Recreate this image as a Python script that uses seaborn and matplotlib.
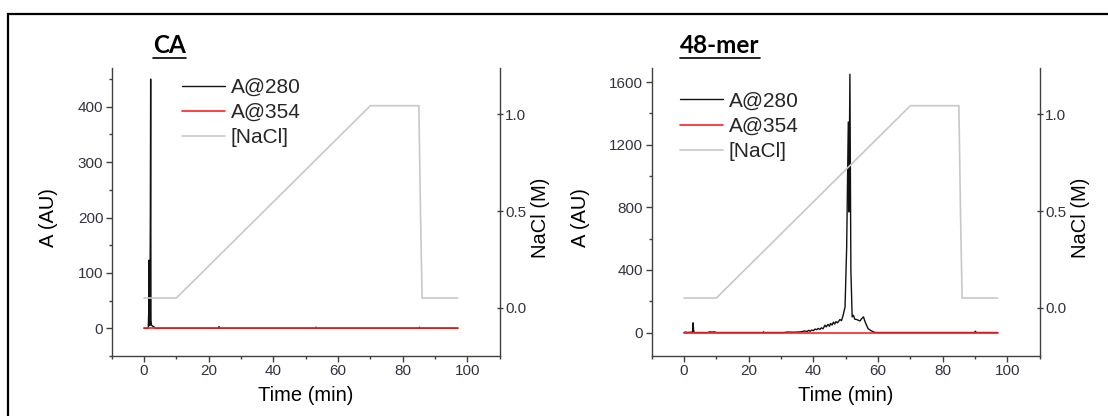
import matplotlib
matplotlib.use("Agg")
import matplotlib.pyplot as plt
from matplotlib.lines import Line2D
from matplotlib.patches import Rectangle
from matplotlib.ticker import MultipleLocator
import seaborn as sns
import pandas as pd

# ---------------- data ----------------
nacl_time = [0, 10, 70, 85, 85.5, 86, 97]
nacl_conc = [0.05, 0.05, 1.045, 1.045, 0.5, 0.05, 0.05]

ca_time_280 = [0, 1.3, 1.45, 1.55, 1.65, 1.8, 1.95, 2.05, 2.15, 2.3, 2.6, 3.0, 3.5,
               23.0, 23.2, 23.4, 53.0, 53.2, 53.4, 85.0, 85.2, 85.4, 97]
ca_abs_280 = [0, 0, 30, 123, 15, 5, 200, 450, 15, 6, 4, 3, 0,
              0, 3, 0, 0, 2, 0, 0, 2, 0, 0]
ca_time_354 = [0, 97]
ca_abs_354 = [0, 0]

mer_time_280 = [0, 0.5, 1.0, 2.0, 2.6, 2.8, 3.0, 3.3, 7.4, 7.8, 8.5, 9.5, 9.9,
                24.4, 24.6, 24.8, 30.8, 32, 34, 36, 37.4, 38, 38.6, 39, 39.5, 40,
                40.5, 41, 41.5, 42, 42.5, 43, 43.6, 44, 44.5, 45, 45.3, 45.8, 46.2,
                46.6, 47, 47.5, 48.2, 48.7, 49.2, 49.8, 50.3, 50.8, 51.0, 51.3,
                51.6, 52.0, 52.4, 52.8, 53.4, 54.4, 55.0, 55.5, 56.0, 56.9, 57.8,
                58.6, 59.2, 60, 89.8, 90.1, 90.4, 97]
mer_abs_280 = [0, 3, 0, 2, 0, 62, 5, 0, 0, 4, 3, 4, 0,
               0, 4, 0, 0, 3, 2, 4, 10, 6, 14, 8, 16, 12,
               22, 18, 26, 20, 30, 24, 47, 36, 52, 40, 58, 48, 66,
               54, 70, 62, 83, 76, 110, 164, 547, 1345, 770, 1650,
               400, 100, 110, 85, 83, 74, 90, 100, 68, 25, 12,
               4, 0, 0, 0, 8, 0, 0]
mer_time_354 = [0, 97]
mer_abs_354 = [0, 0]

panels = [
    dict(title="CA", t280=ca_time_280, a280=ca_abs_280, t354=ca_time_354,
         a354=ca_abs_354, ylim=(-50, 470), ymin=50,
         yticks=[0, 100, 200, 300, 400]),
    dict(title="48-mer", t280=mer_time_280, a280=mer_abs_280, t354=mer_time_354,
         a354=mer_abs_354, ylim=(-150, 1690), ymin=200,
         yticks=[0, 400, 800, 1200, 1600]),
]
legend_labels = ["A@280", "A@354", "[NaCl]"]

# ---------------- style ----------------
sns.set_theme(style="white")
plt.rcParams["font.family"] = ["Liberation Sans", "DejaVu Sans"]

W, H = 1108, 416
fig = plt.figure(figsize=(W / 100, H / 100), dpi=100)
fig.patch.set_facecolor("white")

# outer frame (open to the right/bottom like the cropped reference)
fig.add_artist(Rectangle((8 / W, -0.1), 1.2, (416 - 14) / H + 0.1,
                         transform=fig.transFigure, fill=False,
                         edgecolor="black", linewidth=1.6, clip_on=False))

ax_lefts = [111.7, 651.7]
ax_w, ax_top, ax_bot = 388, 68, 356
title_x = [153, 680]
leg_anchor = [(0.181, 0.966), (0.073, 0.918)]
ylab_x = [57.5, 589.5]
y2lab_x = [530.5, 1070.5]

spine_c = "#404040"
tick_c = "#333340"

titles = []
for i, p in enumerate(panels):
    ax = fig.add_axes([ax_lefts[i] / W, (H - ax_bot) / H, ax_w / W,
                       (ax_bot - ax_top) / H])
    ax2 = ax.twinx()
    df280 = pd.DataFrame({"t": p["t280"], "a": p["a280"]})
    df354 = pd.DataFrame({"t": p["t354"], "a": p["a354"]})
    dfn = pd.DataFrame({"t": nacl_time, "c": nacl_conc})
    sns.lineplot(data=df280, x="t", y="a", ax=ax, color="#111111",
                 linewidth=1.0, estimator=None, sort=False, zorder=2)
    sns.lineplot(data=df354, x="t", y="a", ax=ax, color="#ff2020",
                 linewidth=1.2, estimator=None, sort=False, zorder=3)
    sns.lineplot(data=dfn, x="t", y="c", ax=ax2, color="#c8c8c8",
                 linewidth=1.2, estimator=None, sort=False)

    ax.set_xlim(-10, 110)
    ax.set_ylim(*p["ylim"])
    ax2.set_ylim(-0.25, 1.24)
    ax.xaxis.set_major_locator(MultipleLocator(20))
    ax.xaxis.set_minor_locator(MultipleLocator(10))
    ax.set_yticks(p["yticks"])
    ax.yaxis.set_minor_locator(MultipleLocator(p["ymin"]))
    ax2.set_yticks([0.0, 0.5, 1.0])
    ax2.set_yticklabels(["0.0", "0.5", "1.0"])

    for a in (ax, ax2):
        a.set_facecolor("none")
        a.spines["top"].set_visible(False)
        for s in ("left", "right", "bottom"):
            a.spines[s].set_color(spine_c)
            a.spines[s].set_linewidth(1.0)
    ax.spines["right"].set_visible(False)
    ax2.spines["left"].set_visible(False)
    ax2.spines["bottom"].set_visible(False)

    ax.tick_params(axis="both", which="major", direction="out", length=4,
                   width=1.0, color=spine_c, labelsize=11, labelcolor=tick_c,
                   pad=2)
    ax.tick_params(axis="both", which="minor", direction="out", length=2.5,
                   width=1.0, color=spine_c)
    ax.tick_params(axis="x", which="both", bottom=True, top=False)
    ax.tick_params(axis="y", which="both", left=True, right=False)
    ax2.tick_params(axis="y", which="major", direction="inout", length=4,
                    width=1.0, color=spine_c, labelsize=11, labelcolor=tick_c,
                    pad=2, right=True, left=False)

    ax.set_xlabel("Time (min)", fontsize=14.5, color="black")
    ax.set_ylabel("A (AU)", fontsize=14.5, color="black")
    ax2.set_ylabel("NaCl (M)", fontsize=14.5, color="black")
    ax.xaxis.set_label_coords(0.5, -0.105)
    ax.yaxis.set_label_coords((ylab_x[i] - ax_lefts[i]) / ax_w, 0.48)
    ax2.yaxis.set_label_coords((y2lab_x[i] - ax_lefts[i]) / ax_w, 0.48)

    handles = [Line2D([], [], color="#111111", lw=1.0),
               Line2D([], [], color="#ff2020", lw=1.2),
               Line2D([], [], color="#c8c8c8", lw=1.2)]
    if ax.get_legend():
        ax.get_legend().remove()
    ax2.legend(handles, legend_labels, loc="upper left",
               bbox_to_anchor=leg_anchor[i], frameon=False, fontsize=15,
               handlelength=2.05, handletextpad=0.3, labelspacing=0.3,
               borderpad=0, borderaxespad=0)

    t = fig.text(title_x[i] / W, (H - 53.3) / H, p["title"], fontsize=17.5,
                 fontweight="bold", family=["Lato", "DejaVu Sans"],
                 ha="left", va="baseline", color="black")
    titles.append(t)

fig.canvas.draw()
r = fig.canvas.get_renderer()
for t in titles:
    bb = t.get_window_extent(r)
    y = (H - 58) / H
    fig.add_artist(Line2D([bb.x0 / W, bb.x1 / W], [y, y], color="black",
                          lw=1.2, transform=fig.transFigure))

fig.savefig("out.png", dpi=100, facecolor="white")
